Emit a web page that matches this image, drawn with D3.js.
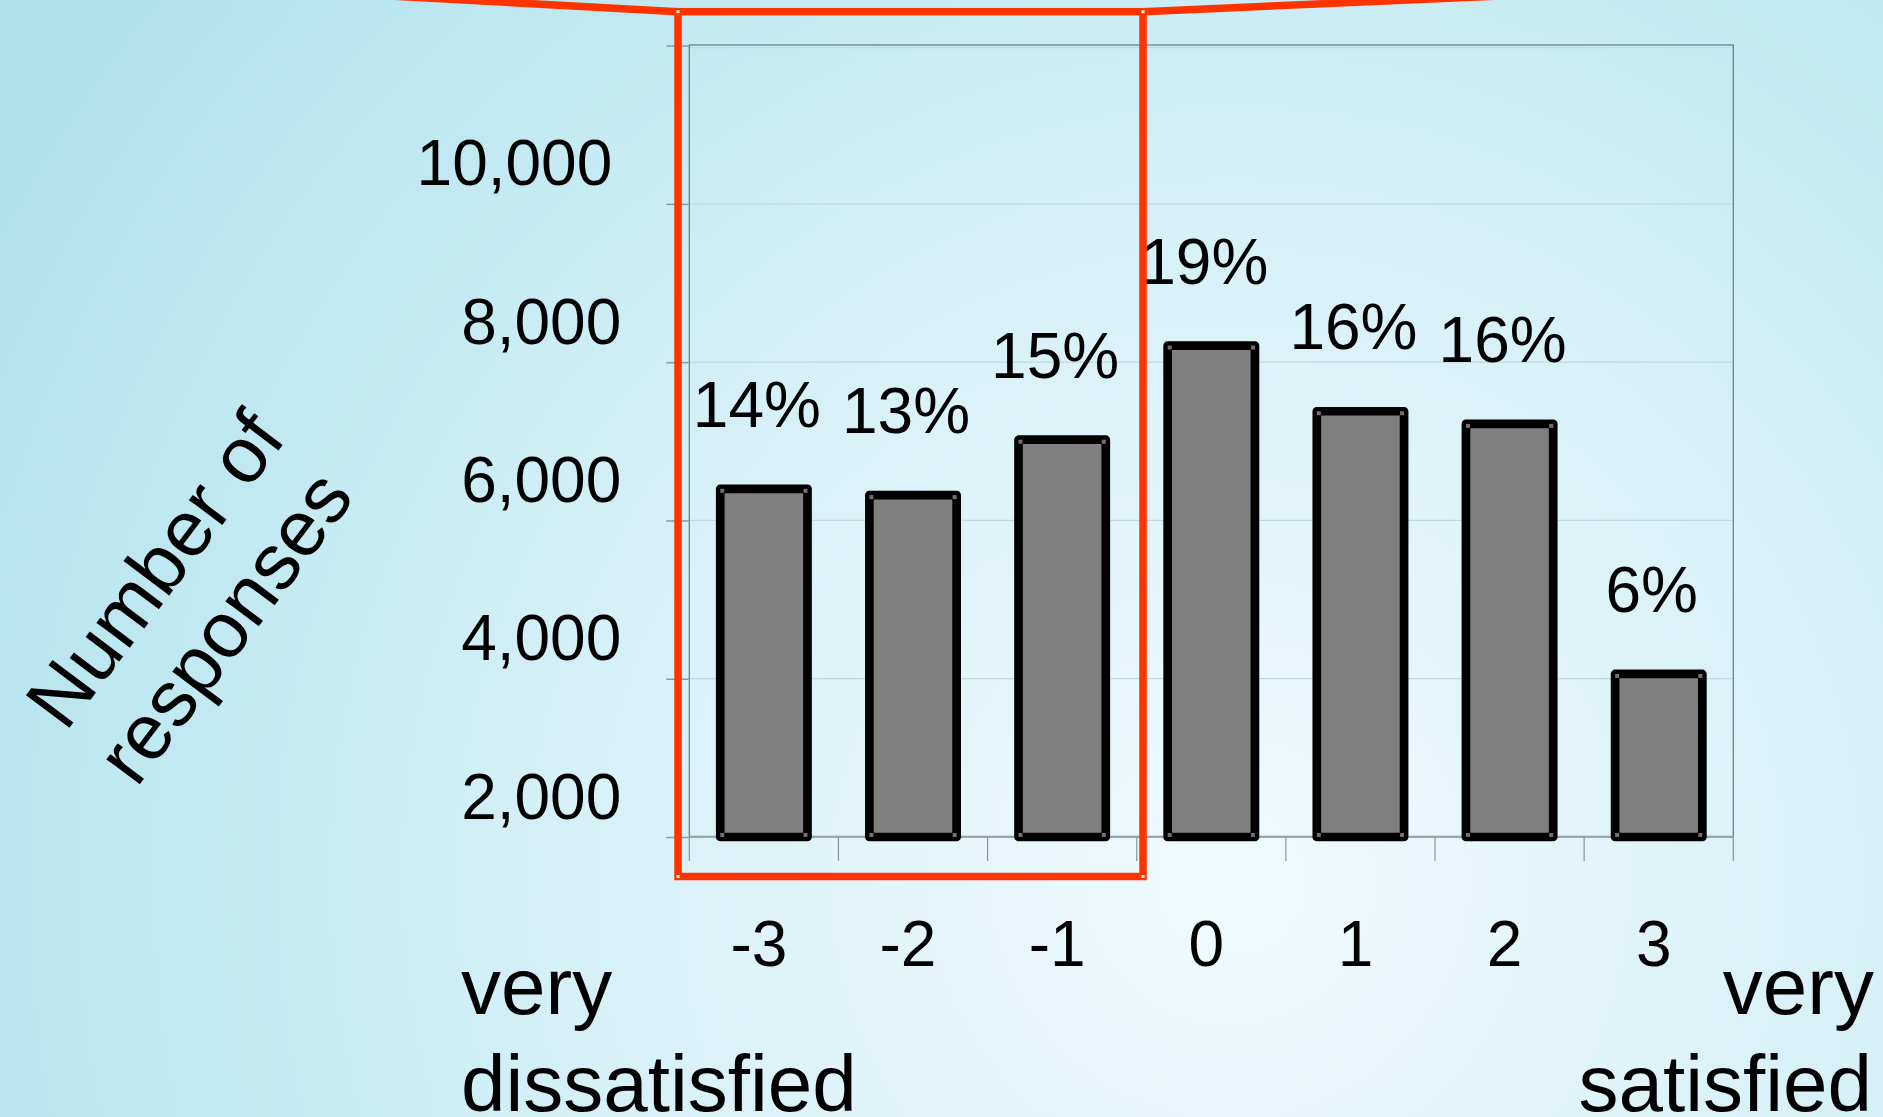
<!DOCTYPE html>
<html>
<head>
<meta charset="utf-8">
<script src="https://cdn.jsdelivr.net/npm/d3@7"></script>
<style>
  html, body { margin: 0; padding: 0; overflow: hidden; }
  svg { display: block; font-family: "Liberation Sans", Arial, sans-serif; }
</style>
</head>
<body>
<script>
// data
const categories = ["-3", "-2", "-1", "0", "1", "2", "3"];
const responses = [6400, 6320, 7020, 8210, 7380, 7220, 4060];
const shareLabels = ["14%", "13%", "15%", "19%", "16%", "16%", "6%"];
const yTicks = [2000, 4000, 6000, 8000, 10000, 12000];

const width = 1883;
const height = 1117;
const plot = { left: 689.3, right: 1733.3, top: 45.6, bottom: 837 };

const svg = d3.select("body").append("svg")
  .attr("width", width)
  .attr("height", height);

//----------------------------BACKGROUND----------------------------//
const defs = svg.append("defs");
const grad = defs.append("radialGradient")
  .attr("id", "bg")
  .attr("gradientUnits", "userSpaceOnUse")
  .attr("cx", 1230).attr("cy", 880).attr("r", 1400);
grad.append("stop").attr("offset", "0%").attr("stop-color", "#f0fafd");
grad.append("stop").attr("offset", "50%").attr("stop-color", "#d4f0f6");
grad.append("stop").attr("offset", "100%").attr("stop-color", "#b0e2ee");

svg.append("rect")
  .attr("width", width).attr("height", height)
  .attr("fill", "url(#bg)");

//----------------------------SCALES-----------------------------//
const x = d3.scaleBand()
  .domain(categories)
  .range([plot.left, plot.right]);

const y = d3.scaleLinear()
  .domain([2000, 12000])
  .range([plot.bottom, plot.top]);

const barFrac = 0.585;

//----------------------------GRID & FRAME-----------------------------//
svg.append("g")
  .selectAll("line")
  .data(yTicks.slice(1))
  .join("line")
  .attr("x1", plot.left).attr("x2", plot.right)
  .attr("y1", d => y(d) + (d === 12000 ? 2 : 0))
  .attr("y2", d => y(d) + (d === 12000 ? 2 : 0))
  .attr("stroke", "#bfd9df")
  .attr("stroke-width", 1.2);

svg.append("rect")
  .attr("x", plot.left).attr("y", plot.top - 0.6)
  .attr("width", plot.right - plot.left)
  .attr("height", plot.bottom - plot.top)
  .attr("fill", "none")
  .attr("stroke", "#5f7b82")
  .attr("stroke-width", 1.2);

//-----------------------------Y AXIS------------------------------//
const yaxis = d3.axisLeft(y)
  .tickValues(yTicks)
  .tickSize(23)
  .tickPadding(45)
  .tickFormat(d => d === 12000 ? "" : d3.format(",")(d));

const gy = svg.append("g")
  .attr("transform", "translate(" + plot.left + ",0)")
  .call(yaxis);
gy.select(".domain").remove();
gy.selectAll(".tick line").attr("stroke", "#8a9da2").attr("stroke-width", 1.5);
gy.selectAll(".tick text")
  .attr("dy", null)
  .attr("y", -19)
  .attr("dx", d => d === 10000 ? -9 : 0)
  .attr("fill", "#000")
  .style("font-size", "64px");

//-----------------------------X AXIS------------------------------//
svg.append("line")
  .attr("x1", plot.left).attr("x2", plot.right)
  .attr("y1", plot.bottom).attr("y2", plot.bottom)
  .attr("stroke", "#9aa6a9")
  .attr("stroke-width", 2);

const boundaries = categories.map(c => x(c)).concat([plot.right]);
svg.append("g")
  .selectAll("line")
  .data(boundaries)
  .join("line")
  .attr("x1", d => d).attr("x2", d => d)
  .attr("y1", plot.bottom).attr("y2", plot.bottom + 24)
  .attr("stroke", "#8a9599")
  .attr("stroke-width", 1.2);

const xaxis = d3.axisBottom(x).tickSize(0).tickPadding(0);
const gx = svg.append("g")
  .attr("transform", "translate(0," + plot.bottom + ")")
  .call(xaxis);
gx.select(".domain").remove();
gx.selectAll(".tick text")
  .attr("y", 129)
  .attr("dy", null)
  .attr("dx", -5)
  .attr("fill", "#000")
  .style("font-size", "64px");

//----------------------------BARS------------------------------//
const bars = svg.append("g")
  .selectAll("g")
  .data(categories.map((c, i) => ({ cat: c, value: responses[i], label: shareLabels[i] })))
  .join("g");

bars.append("rect")
  .attr("x", d => x(d.cat) + x.bandwidth() * (1 - barFrac) / 2)
  .attr("y", d => y(d.value))
  .attr("width", x.bandwidth() * barFrac)
  .attr("height", d => y(2000) - y(d.value))
  .attr("fill", "#808080")
  .attr("stroke", "#000")
  .attr("stroke-width", 8.7)
  .attr("stroke-linejoin", "round");

// little grey handles at the bar corners
bars.each(function (d) {
  const x0 = x(d.cat) + x.bandwidth() * (1 - barFrac) / 2;
  const x1 = x0 + x.bandwidth() * barFrac;
  const y0 = y(d.value);
  const y1 = y(2000);
  const pts = [[x0 + 2, y0 + 2], [x1 - 2, y0 + 2], [x0 + 2, y1 - 2], [x1 - 2, y1 - 2]];
  d3.select(this).selectAll(".hdl")
    .data(pts)
    .join("rect")
    .attr("class", "hdl")
    .attr("x", p => p[0] - 2).attr("y", p => p[1] - 2)
    .attr("width", 4).attr("height", 4)
    .attr("fill", "#707070");
});

bars.append("text")
  .attr("x", d => x(d.cat) + x.bandwidth() / 2 - 7)
  .attr("y", d => y(d.value) - 62)
  .attr("text-anchor", "middle")
  .attr("fill", "#000")
  .style("font-size", "64px")
  .text(d => d.label);

//----------------------------TITLES------------------------------//
const yTitle = svg.append("g")
  .attr("transform", "translate(195,602) rotate(-53)")
  .attr("text-anchor", "middle")
  .style("font-size", "79px")
  .attr("fill", "#000");
yTitle.append("text").attr("x", 2).attr("y", -53).attr("dy", "0.36em").text("Number of");
yTitle.append("text").attr("x", -2).attr("y", 53).attr("dy", "0.16em").text("responses");

const leftEnd = svg.append("text")
  .attr("x", 461)
  .attr("y", 1014)
  .style("font-size", "80px")
  .attr("fill", "#000");
leftEnd.append("tspan").attr("x", 461).text("very");
leftEnd.append("tspan").attr("x", 461).attr("dy", 97).text("dissatisfied");

const rightEnd = svg.append("text")
  .attr("x", 1874)
  .attr("y", 1014)
  .attr("text-anchor", "end")
  .style("font-size", "80px")
  .attr("fill", "#000");
rightEnd.append("tspan").attr("x", 1874).text("very");
rightEnd.append("tspan").attr("x", 1872).attr("dy", 97).text("satisfied");

//----------------------------RED CALLOUT------------------------------//
const red = "#ff3300";
const box = { x0: 678, x1: 1143, y0: 11.7, y1: 876.5 };
svg.append("line")
  .attr("x1", box.x0).attr("y1", box.y0)
  .attr("x2", 390).attr("y2", -4)
  .attr("stroke", red).attr("stroke-width", 7.5);
svg.append("line")
  .attr("x1", box.x1).attr("y1", box.y0)
  .attr("x2", 1500).attr("y2", -4)
  .attr("stroke", red).attr("stroke-width", 7.5);
svg.append("rect")
  .attr("x", box.x0).attr("y", box.y0)
  .attr("width", box.x1 - box.x0)
  .attr("height", box.y1 - box.y0)
  .attr("fill", "none")
  .attr("stroke", red)
  .attr("stroke-width", 7.5);
svg.selectAll(".corner")
  .data([[box.x0, box.y0], [box.x1, box.y0], [box.x0, box.y1], [box.x1, box.y1]])
  .join("rect")
  .attr("class", "corner")
  .attr("x", p => p[0] - 1.5).attr("y", p => p[1] - 1.5)
  .attr("width", 3).attr("height", 3)
  .attr("fill", "#ffffff");
</script>
</body>
</html>
